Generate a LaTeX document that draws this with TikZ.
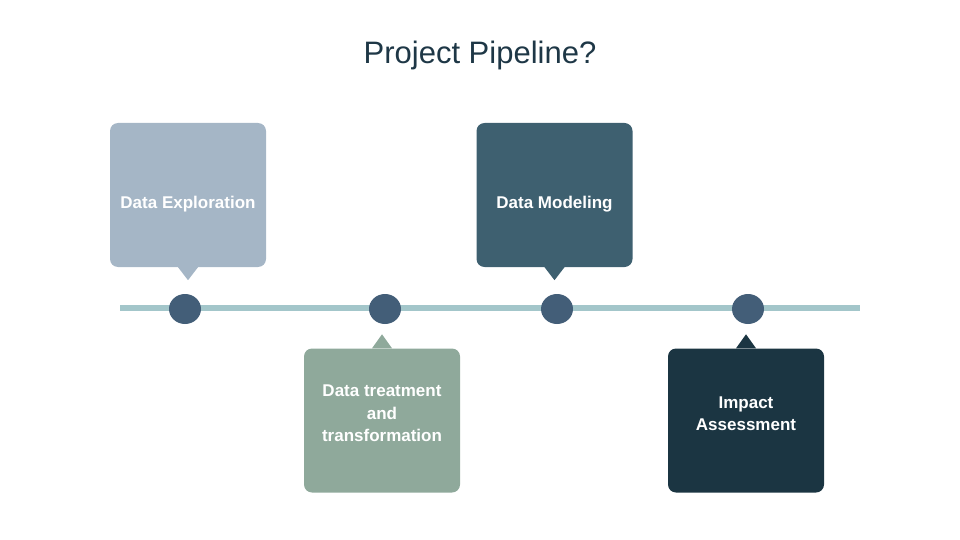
\documentclass[tikz,border=0pt]{standalone}
\usepackage{fontspec}
\setmainfont{Liberation Sans}
\usetikzlibrary{positioning, shapes.geometric}

\definecolor{linecol}{RGB}{163,198,202}
\definecolor{dotcol}{RGB}{67,94,120}
\definecolor{explorecol}{RGB}{165,182,198}
\definecolor{treatcol}{RGB}{143,169,155}
\definecolor{modelcol}{RGB}{62,96,112}
\definecolor{impactcol}{RGB}{27,53,66}
\definecolor{titlecol}{RGB}{30,55,70}

\begin{document}
\begin{tikzpicture}[x=1pt,y=-1pt]
        % Setup the styles for boxes, dots and texts
        \tikzset{box style/.style={rectangle, rounded corners=8pt,
                                   minimum width=156pt, minimum height=144pt,
                                   inner sep=0pt},
                 dot style/.style={ellipse, fill=dotcol,
                                   minimum width=32pt, minimum height=30pt,
                                   inner sep=0pt},
                 text style/.style={text=white, align=center,
                                    font=\fontsize{17}{22.5}\selectfont\bfseries}}
        \useasboundingbox (0,0) rectangle (960,540);

        % Title
        \node[anchor=base, text=titlecol, font=\fontsize{31}{36}\selectfont] at (480,64) (title) {Project Pipeline?};

        % Draw the timeline
        \coordinate (start) at (120,308);
        \coordinate (stop) at (860,308);
        \draw[line width=6pt, draw=linecol] (start) -- (stop);

        % Draw the dots
        \node[dot style] at (185,309) (dot1) {};
        \node[dot style] at (385,309) (dot2) {};
        \node[dot style] at (557,309) (dot3) {};
        \node[dot style] at (748,309) (dot4) {};

        % Draw the boxes
        \node[box style, fill=explorecol] at (188,195)   (explore) {};
        \node[box style, fill=treatcol]   at (382,420.5) (treat)   {};
        \node[box style, fill=modelcol]   at (554.5,195) (model)   {};
        \node[box style, fill=impactcol]  at (746,420.5) (impact)  {};

        % Pointers towards the dots
        \fill[explorecol] ([xshift=-10pt]explore.south) -- ([xshift=10pt]explore.south) -- ([yshift=-13pt]explore.south) -- cycle;
        \fill[modelcol] ([xshift=-10pt]model.south) -- ([xshift=10pt]model.south) -- ([yshift=-13pt]model.south) -- cycle;
        \fill[treatcol] ([xshift=-10pt]treat.north) -- ([xshift=10pt]treat.north) -- ([yshift=14pt]treat.north) -- cycle;
        \fill[impactcol] ([xshift=-10pt]impact.north) -- ([xshift=10pt]impact.north) -- ([yshift=14pt]impact.north) -- cycle;

        % Texts of the boxes
        \node[text style] at ([yshift=-9pt]explore.center) (exploretext) {Data Exploration};
        \node[text style] at ([yshift=-9pt]model.center) (modeltext) {Data Modeling};
        \node[text style] at ([yshift=7pt]treat.center) (treattext) {Data treatment\\and\\transformation};
        \node[text style] at ([yshift=7pt]impact.center) (impacttext) {Impact\\Assessment};
\end{tikzpicture}
\end{document}
